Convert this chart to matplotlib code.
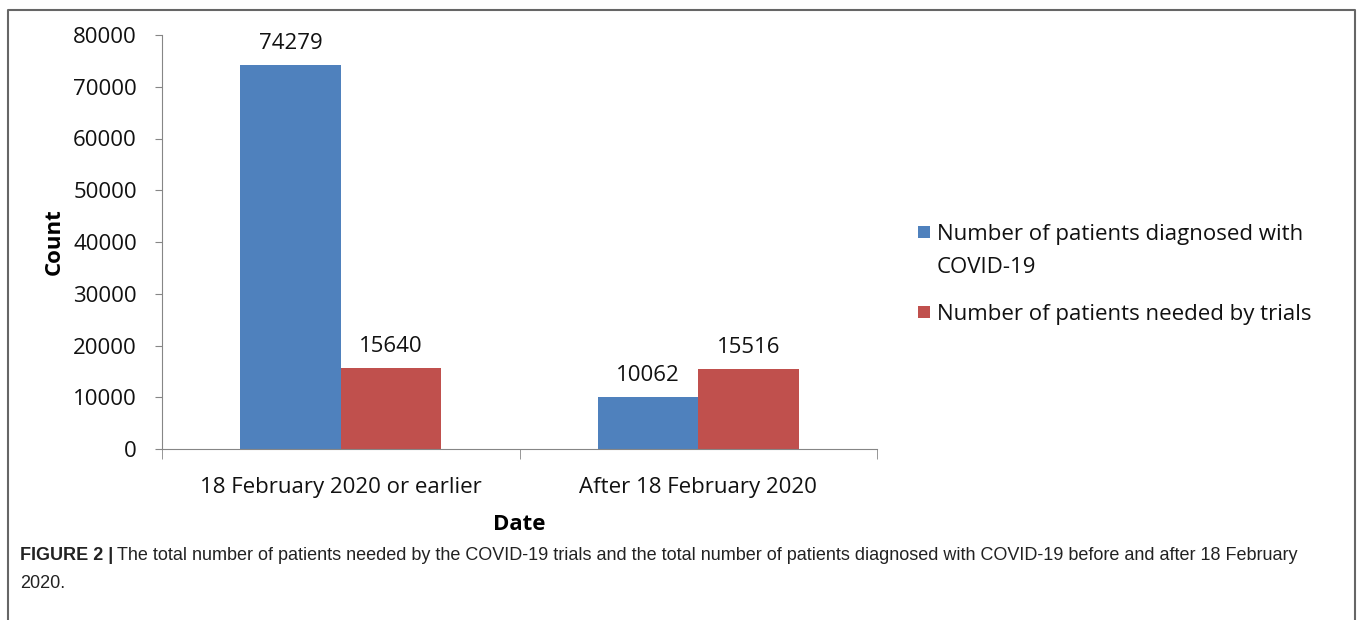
import numpy as np
import matplotlib
matplotlib.use("Agg")
import matplotlib.pyplot as plt
from matplotlib.patches import Rectangle
from matplotlib.lines import Line2D

# data
categories = ["18 February 2020 or earlier", "After 18 February 2020"]
diagnosed = [74279, 10062]
needed = [15640, 15516]
series_names = ["Number of patients diagnosed with\nCOVID-19", "Number of patients needed by trials"]
yticks = [0, 10000, 20000, 30000, 40000, 50000, 60000, 70000, 80000]

blue = "#4F81BD"
red = "#C0504D"
axis_grey = "#868686"
font = ["Open Sans", "DejaVu Sans"]
cap_font = ["Liberation Sans Narrow", "Liberation Sans", "DejaVu Sans"]
fs = 16
W, H = 1358, 620

fig = plt.figure(figsize=(W/100, H/100), dpi=100)
ax = fig.add_axes([162/W, 1-449/H, (877-162)/W, (449-35)/H])

x = np.arange(len(categories))
w = 0.281
b1 = ax.bar(x - w/2, diagnosed, w, color=blue)
b2 = ax.bar(x + w/2, needed, w, color=red)

for bars in (b1, b2):
    for r in bars:
        ax.annotate(f"{int(r.get_height())}", (r.get_x() + r.get_width()/2, r.get_height()),
                    xytext=(0, 11), textcoords="offset pixels", ha="center", va="bottom",
                    fontsize=fs, family=font, color="#111111")

ax.set_xlim(-0.5, 1.5)
ax.set_ylim(0, 80000)
ax.set_yticks(yticks)
ax.set_yticklabels([str(t) for t in yticks], family=font, fontsize=fs)
ax.set_xticks(x)
ax.set_xticklabels(categories, family=font, fontsize=fs)
ax.set_xticks([-0.5, 0.5, 1.5], minor=True)
ax.tick_params(axis="x", which="major", length=0, pad=20, colors="#111111")
ax.tick_params(axis="x", which="minor", length=7, color=axis_grey, direction="out")
ax.tick_params(axis="y", length=5, color=axis_grey, pad=13, labelcolor="#111111")
for s in ("top", "right"):
    ax.spines[s].set_visible(False)
for s in ("left", "bottom"):
    ax.spines[s].set_color(axis_grey)
ax.spines["left"].set_bounds(0, 80000)

ax.set_ylabel("Count", family=font, fontsize=fs, fontweight="bold", labelpad=6)
ax.set_xlabel("Date", family=font, fontsize=fs, fontweight="bold", labelpad=12)

# legend drawn by hand so the marker sits beside the first line of a wrapped label
leg_rows = [232, 312]
for name, col, yrow in zip(series_names, [blue, red], leg_rows):
    fig.add_artist(Rectangle((918/W, 1-(yrow+6)/H), 12/W, 12/H, transform=fig.transFigure,
                             facecolor=col, edgecolor="none"))
    fig.text(937/W, 1-(yrow-8)/H, name, family=font, fontsize=fs, color="#111111",
             va="top", ha="left", linespacing=1.72)

# outer frame (left, top, right)
frame = Line2D([8/W, 8/W, 1355/W, 1355/W], [0, 1-10/H, 1-10/H, 0],
               transform=fig.transFigure, color="#666666", lw=1.5)
fig.add_artist(frame)

# caption
cap_col = "#222222"
cfs = 13
t1 = fig.text(20/W, 1-556/H, "FIGURE 2 |", family=cap_font, fontsize=cfs,
              fontweight="bold", color=cap_col, va="center")
fig.canvas.draw()
bb = t1.get_window_extent()
fig.text((bb.x1 + 4)/W, 1-556/H,
         "The total number of patients needed by the COVID-19 trials and the total number of patients diagnosed with COVID-19 before and after 18 February",
         family=cap_font, fontsize=cfs, color=cap_col, va="center")
fig.text(20/W, 1-583/H, "2020.", family=cap_font, fontsize=cfs, color=cap_col, va="center")

fig.savefig("out.png", dpi=100)
